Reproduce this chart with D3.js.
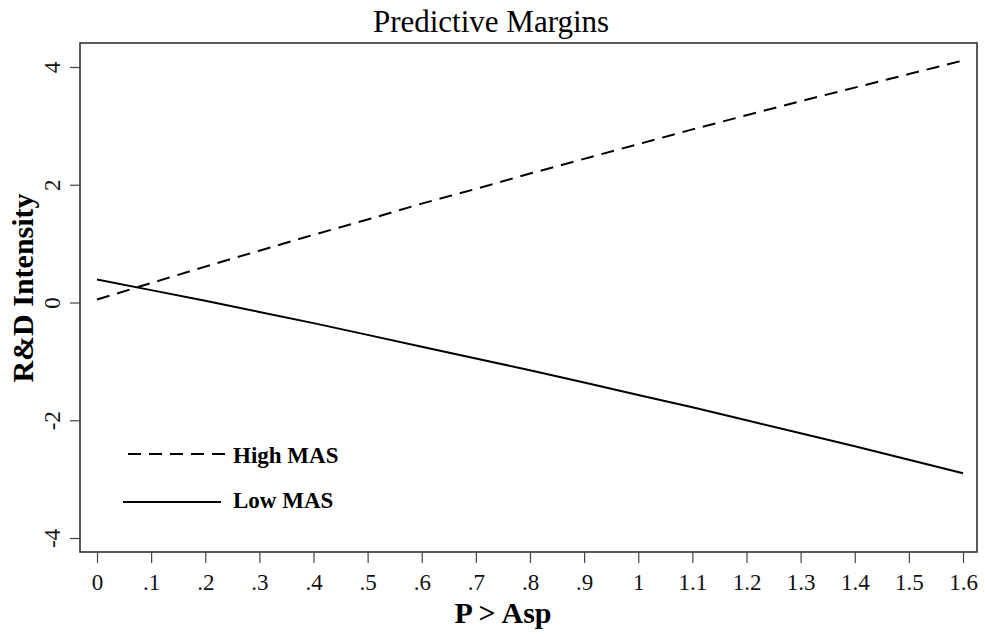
<!DOCTYPE html>
<html>
<head>
<meta charset="utf-8">
<script src="https://cdn.jsdelivr.net/npm/d3@7"></script>
<style>
  html, body { margin: 0; padding: 0; background: #fff; }
  svg { display: block; font-family: "Liberation Serif", "Times New Roman", serif; }
</style>
</head>
<body>
<div id="chart"></div>
<script>
(() => {
  // values
  const xValues = [0, 0.1, 0.2, 0.3, 0.4, 0.5, 0.6, 0.7, 0.8, 0.9, 1.0, 1.1, 1.2, 1.3, 1.4, 1.5, 1.6]
  const highMAS = [0.05, 0.33, 0.61, 0.88, 1.15, 1.41, 1.68, 1.93, 2.19, 2.44, 2.69, 2.94, 3.18, 3.42, 3.65, 3.88, 4.11]
  const lowMAS = [0.39, 0.21, 0.03, -0.16, -0.35, -0.55, -0.75, -0.95, -1.15, -1.36, -1.57, -1.78, -2.00, -2.22, -2.44, -2.67, -2.90]
  const xTicks = [0, 0.1, 0.2, 0.3, 0.4, 0.5, 0.6, 0.7, 0.8, 0.9, 1.0, 1.1, 1.2, 1.3, 1.4, 1.5, 1.6]
  const xTickLabels = ['0', '.1', '.2', '.3', '.4', '.5', '.6', '.7', '.8', '.9', '1', '1.1', '1.2', '1.3', '1.4', '1.5', '1.6']
  const yTicks = [-4, -2, 0, 2, 4]
  const yTickLabels = ['-4', '-2', '0', '2', '4']
  const seriesNames = ['High MAS', 'Low MAS']

  const WIDTH = 985
  const HEIGHT = 637
  const FRAME = { left: 80, top: 43, right: 977, bottom: 552 }
  const DASH = '13,8'

  const svg = d3.select('#chart').append('svg')
    .attr('width', WIDTH)
    .attr('height', HEIGHT)

  const xScale = d3.scaleLinear().domain([0, 1.6]).range([97, 963])
  const yScale = d3.scaleLinear().domain([-4, 4]).range([538, 67])

  // title
  svg.append('text')
    .attr('x', 491)
    .attr('y', 32)
    .attr('text-anchor', 'middle')
    .style('font-size', '31px')
    .text('Predictive Margins')

  // plot frame
  svg.append('rect')
    .attr('x', FRAME.left)
    .attr('y', FRAME.top)
    .attr('width', FRAME.right - FRAME.left)
    .attr('height', FRAME.bottom - FRAME.top)
    .attr('fill', 'none')
    .attr('stroke', '#333')
    .attr('stroke-width', 1.6)

  // x axis
  const xAxis = d3.axisBottom(xScale)
    .tickValues(xTicks)
    .tickFormat((d, i) => xTickLabels[i])
    .tickSize(11)
    .tickSizeOuter(0)

  const gx = svg.append('g')
    .attr('transform', `translate(0, ${FRAME.bottom})`)
    .call(xAxis)
  gx.select('.domain').remove()
  gx.selectAll('line').attr('stroke', '#444').attr('stroke-width', 1.2)
  gx.selectAll('text')
    .attr('y', 38)
    .attr('dy', 0)
    .attr('fill', '#111')
    .style('font-size', '23px')
    .style('font-family', '"Liberation Serif", serif')

  // y axis, labels rotated like the original
  const yAxis = d3.axisLeft(yScale)
    .tickValues(yTicks)
    .tickFormat((d, i) => yTickLabels[i])
    .tickSize(10)
    .tickSizeOuter(0)

  const gy = svg.append('g')
    .attr('transform', `translate(${FRAME.left}, 0)`)
    .call(yAxis)
  gy.select('.domain').remove()
  gy.selectAll('line').attr('stroke', '#444').attr('stroke-width', 1.2)
  gy.selectAll('text')
    .attr('x', 0)
    .attr('y', -20)
    .attr('dy', 0)
    .attr('text-anchor', 'middle')
    .attr('transform', 'rotate(-90)')
    .attr('fill', '#111')
    .style('font-size', '23px')
    .style('font-family', '"Liberation Serif", serif')

  // axis titles
  svg.append('text')
    .attr('x', 503)
    .attr('y', 623)
    .attr('text-anchor', 'middle')
    .style('font-size', '30px')
    .style('font-weight', 'bold')
    .text('P > Asp')

  svg.append('text')
    .attr('transform', 'translate(33, 288) rotate(-90)')
    .attr('text-anchor', 'middle')
    .style('font-size', '30px')
    .style('font-weight', 'bold')
    .text('R&D Intensity')

  // lines
  const line = d3.line()
    .x(d => xScale(d[0]))
    .y(d => yScale(d[1]))

  svg.append('path')
    .datum(xValues.map((x, i) => [x, highMAS[i]]))
    .attr('d', line)
    .attr('fill', 'none')
    .attr('stroke', '#000')
    .attr('stroke-width', 2)
    .attr('stroke-dasharray', DASH)

  svg.append('path')
    .datum(xValues.map((x, i) => [x, lowMAS[i]]))
    .attr('d', line)
    .attr('fill', 'none')
    .attr('stroke', '#000')
    .attr('stroke-width', 2)

  // legend
  const legend = [
    { name: seriesNames[0], dash: DASH, x1: 128, x2: 225, y: 454, ty: 463 },
    { name: seriesNames[1], dash: null, x1: 123, x2: 221, y: 502, ty: 508 }
  ]

  const lg = svg.append('g')
  lg.selectAll('line')
    .data(legend)
    .join('line')
    .attr('x1', d => d.x1)
    .attr('x2', d => d.x2)
    .attr('y1', d => d.y)
    .attr('y2', d => d.y)
    .attr('stroke', '#000')
    .attr('stroke-width', 2)
    .attr('stroke-dasharray', d => d.dash)

  lg.selectAll('text')
    .data(legend)
    .join('text')
    .attr('x', 233)
    .attr('y', d => d.ty)
    .style('font-size', '23px')
    .style('font-weight', 'bold')
    .text(d => d.name)
})()
</script>
</body>
</html>
